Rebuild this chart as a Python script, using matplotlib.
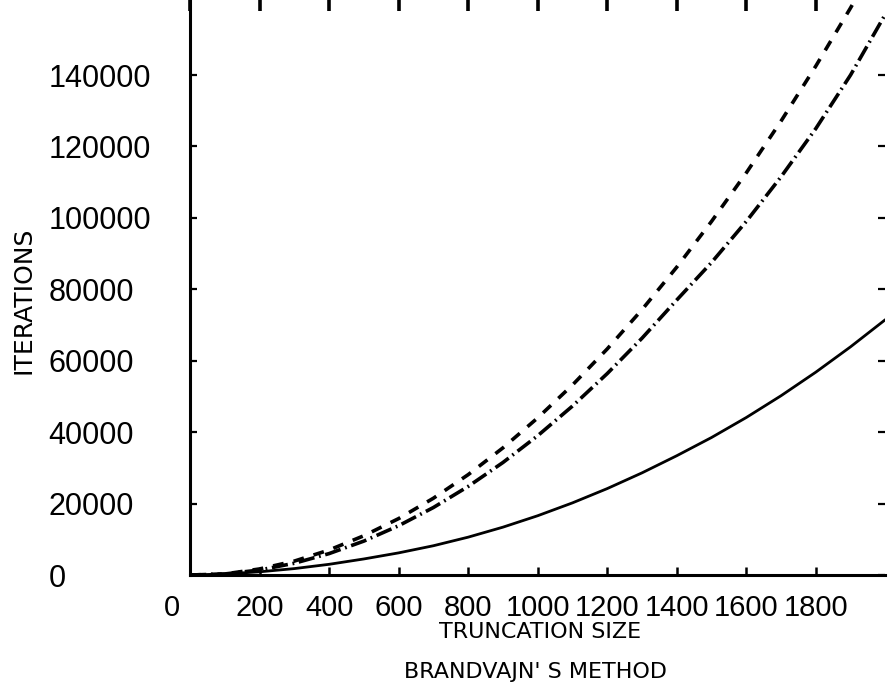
import matplotlib.pyplot as plt
import matplotlib.transforms as mtransforms

# truncation size (x) and iteration counts
truncation = [0, 100, 200, 300, 400, 500, 600, 700, 800, 900, 1000,
              1100, 1200, 1300, 1400, 1500, 1600, 1700, 1800, 1900, 2000]
iter_solid = [0, 300, 900, 1800, 3000, 4500, 6200, 8200, 10600, 13400, 16600,
              20200, 24200, 28600, 33400, 38500, 44100, 50200, 56800, 63900, 71500]
iter_dashdot = [0, 300, 1400, 3300, 6000, 9500, 13800, 18900, 24800, 31500, 39000,
                47300, 56400, 66300, 77000, 87500, 99000, 111500, 125000, 140000, 157000]
iter_dashed = [0, 300, 1700, 3900, 7000, 11000, 15800, 21500, 28100, 35600, 44000,
               53200, 63300, 74300, 86200, 99000, 112600, 127100, 142500, 158800, 176000]

x_ticks = [0, 200, 400, 600, 800, 1000, 1200, 1400, 1600, 1800]
y_ticks = [0, 20000, 40000, 60000, 80000, 100000, 120000, 140000]

fig = plt.figure(figsize=(8.88, 6.97), dpi=100)
ax = fig.add_axes([0.214, 0.175, 0.783, 0.825])

ax.plot(truncation, iter_solid, color="black", linewidth=2.0, solid_capstyle="round")
ax.plot(truncation, iter_dashdot, color="black", linewidth=2.6,
        linestyle=(0, (4.5, 1.3, 0.5, 1.3)))
ax.plot(truncation, iter_dashed, color="black", linewidth=2.6,
        linestyle=(0, (3, 2.8)))

ax.set_xlim(0, 2000)
ax.set_ylim(0, 161000)

ax.spines["top"].set_visible(False)
ax.spines["right"].set_visible(False)
ax.spines["left"].set_linewidth(2.2)
ax.spines["bottom"].set_linewidth(2.2)

ax.set_xticks(x_ticks)
ax.set_yticks(y_ticks)
ax.set_xticklabels([str(v) for v in x_ticks])
ax.set_yticklabels([str(v) for v in y_ticks])

ax.tick_params(axis="x", direction="in", top=True, bottom=True,
               length=6, width=1.8, pad=14, labelsize=21)
ax.tick_params(axis="y", direction="in", left=True, right=True,
               length=5, width=1.6, pad=102, labelsize=22)

for lab in ax.get_xticklabels() + ax.get_yticklabels():
    lab.set_fontfamily(["Liberation Sans", "DejaVu Sans"])
for lab in ax.get_yticklabels():
    lab.set_horizontalalignment("left")

# thicker marks hanging from the (missing) top edge
for tick in ax.xaxis.get_major_ticks():
    tick.tick2line.set_markersize(8)
    tick.tick2line.set_markeredgewidth(2.6)

# the "0" under the x axis sits a little left of the origin
zero_lab = ax.get_xticklabels()[0]
zero_lab.set_transform(zero_lab.get_transform() +
                       mtransforms.ScaledTranslation(-18 / 100, 0, fig.dpi_scale_trans))

ax.set_xlabel("TRUNCATION SIZE", fontsize=16)
ax.xaxis.set_label_coords(0.504, -0.082)
ax.set_ylabel("ITERATIONS", fontsize=18)
ax.yaxis.set_label_coords(-0.222, 0.477)

fig.text(0.603, 0.036, "BRANDVAJN' S METHOD", ha="center", va="center", fontsize=16)

fig.savefig("out.png", dpi=100)
